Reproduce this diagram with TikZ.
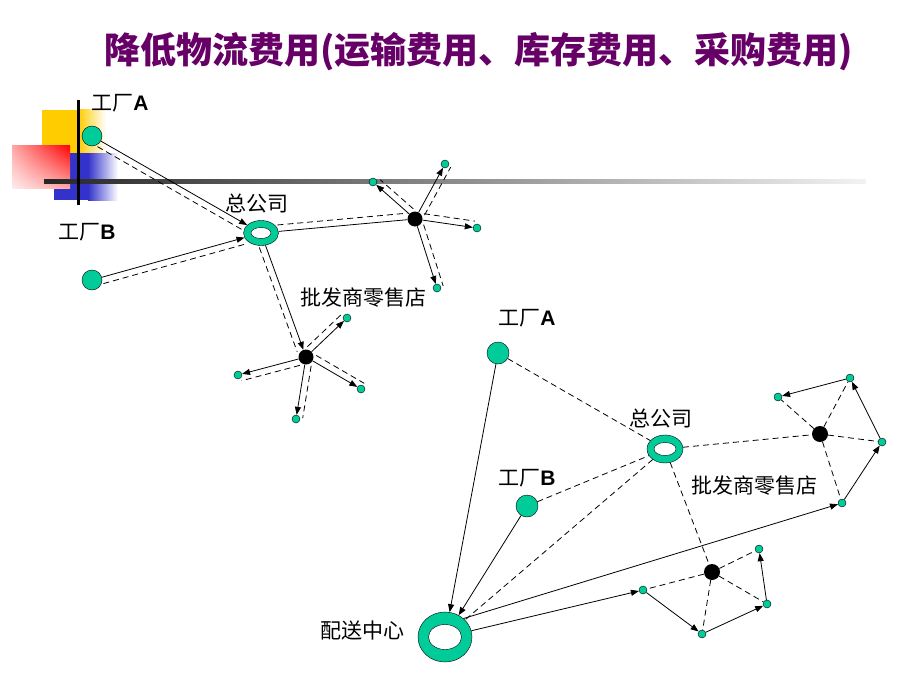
\documentclass[tikz,border=0pt]{standalone}
\usepackage{fontspec}
\newfontfamily\cjk{Noto Sans CJK SC}
\newfontfamily\latn{Liberation Sans}
\usetikzlibrary{shapes.geometric,calc,arrows.meta,shadings}

\definecolor{mint}{RGB}{0,204,153}
\definecolor{plum}{RGB}{102,0,102}
\definecolor{gold}{RGB}{255,204,0}
\definecolor{royal}{RGB}{51,51,204}

\tikzstyle{site}=[circle, draw, fill=mint, inner sep=0pt, minimum size=20pt]
\tikzstyle{shop}=[circle, draw, fill=mint, inner sep=0pt, minimum size=8pt]
\tikzstyle{hub}=[circle, fill=black, inner sep=0pt, minimum size=15pt]
\tikzstyle{ring}=[ellipse, draw, fill=mint, inner sep=0pt]
\tikzstyle{hole}=[ellipse, draw, fill=white, inner sep=0pt]
\tikzstyle{tag}=[font=\cjk\fontsize{21}{24}\selectfont, inner sep=1pt]
\tikzstyle{flow}=[line width=0.8pt, -{Triangle[length=8pt,width=6pt]}]
\tikzstyle{plainflow}=[line width=0.8pt]
\tikzstyle{info}=[line width=0.8pt, dash pattern=on 6pt off 4pt]

\begin{document}
\begin{tikzpicture}[x=1pt, y=-1pt]
\useasboundingbox (0,0) rectangle (920,690);

% corner decoration
\fill[gold] (42,110) rectangle (78,153);
\shade[left color=gold, right color=white] (78,110) rectangle (106,153);
\fill[royal] (54,153) rectangle (88,200);
\shade[left color=royal, right color=white] (88,153) rectangle (118,200);
\shade[upper left=red!35, upper right=red, lower left=red!8, lower right=red!35] (12,145) rectangle (70,188);
\shade[left color=black!85, right color=black!5] (44,179.5) rectangle (866,183);
\fill (76.5,100) rectangle (79.5,205);

\node[font=\cjk\bfseries\fontsize{36}{40}\selectfont, text=plum, anchor=west] (title) at (101,52) {降低物流费用(运输费用、库存费用、采购费用)};

% upper network
\node[site] (fA) at (92,136) {};
\node[site] (fB) at (92,280) {};
\node[ring, minimum width=35pt, minimum height=25pt] (hq) at (261,233) {};
\node[hole, minimum width=20pt, minimum height=11pt] (hqhole) at (hq) {};
\node[hub] (w1) at (415,219) {};
\node[hub] (w2) at (306,357) {};
\node[shop] (w1a) at (373,182) {};
\node[shop] (w1b) at (445,164) {};
\node[shop] (w1c) at (477,228) {};
\node[shop] (w1d) at (437,288) {};
\node[shop] (w2a) at (347,318) {};
\node[shop] (w2b) at (238,375) {};
\node[shop] (w2c) at (361,389) {};
\node[shop] (w2d) at (296,419) {};

\node[tag] (fAtag) at (120,103) {工厂{\latn\bfseries A}};
\node[tag] (fBtag) at (87,232) {工厂{\latn\bfseries B}};
\node[tag] (hqtag) at (257,203) {总公司};
\node[tag] (wtag) at (363,298) {批发商零售店};

\draw[flow] (fA) -- (hq);
\draw[flow] (fB) -- (hq);
\draw[plainflow] (hq) -- (w1);
\draw[flow] (hq) -- (w2);
\draw[flow] (w1) -- (w1a);
\draw[flow] (w1) -- (w1b);
\draw[flow] (w1) -- (w1c);
\draw[flow] (w1) -- (w1d);
\draw[flow] (w2) -- (w2a);
\draw[flow] (w2) -- (w2b);
\draw[flow] (w2) -- (w2c);
\draw[flow] (w2) -- (w2d);

\draw[info, shorten <=10pt, shorten >=15pt] ($(fA)!6.5pt!270:(hq)$) -- ($(hq)!6.5pt!-270:(fA)$);
\draw[info, shorten <=10pt, shorten >=16pt] ($(fB)!6.5pt!270:(hq)$) -- ($(hq)!6.5pt!-270:(fB)$);
\draw[info, shorten <=17pt, shorten >=7pt] ($(hq)!6.5pt!90:(w1)$) -- ($(w1)!6.5pt!-90:(hq)$);
\draw[info, shorten <=13pt, shorten >=8pt] ($(hq)!6.5pt!270:(w2)$) -- ($(w2)!6.5pt!-270:(hq)$);
\draw[info, shorten <=8pt, shorten >=4pt] ($(w1)!6.5pt!270:(w1a)$) -- ($(w1a)!6.5pt!-270:(w1)$);
\draw[info, shorten <=8pt, shorten >=0pt] ($(w1)!6.5pt!270:(w1b)$) -- ($(w1b)!6.5pt!-270:(w1)$);
\draw[info, shorten <=8pt, shorten >=3pt] ($(w1)!6.5pt!90:(w1c)$) -- ($(w1c)!6.5pt!-90:(w1)$);
\draw[info, shorten <=8pt, shorten >=0pt] ($(w1)!6.5pt!90:(w1d)$) -- ($(w1d)!6.5pt!-90:(w1)$);
\draw[info, shorten <=8pt, shorten >=2pt] ($(w2)!6.5pt!90:(w2a)$) -- ($(w2a)!6.5pt!-90:(w2)$);
\draw[info, shorten <=8pt, shorten >=2pt] ($(w2)!6.5pt!90:(w2b)$) -- ($(w2b)!6.5pt!-90:(w2)$);
\draw[info, shorten <=8pt, shorten >=0pt] ($(w2)!6.5pt!90:(w2c)$) -- ($(w2c)!6.5pt!-90:(w2)$);
\draw[info, shorten <=8pt, shorten >=2pt] ($(w2)!6.5pt!90:(w2d)$) -- ($(w2d)!6.5pt!-90:(w2)$);

% lower network
\node[site, minimum size=22pt] (gA) at (498,353) {};
\node[site, minimum size=22pt] (gB) at (527,506) {};
\node[ring, minimum width=36pt, minimum height=28pt] (hq2) at (665,449) {};
\node[hole, minimum width=22pt, minimum height=13pt] (hq2hole) at (hq2) {};
\node[ring, minimum width=54pt, minimum height=50pt] (dc) at (445,637) {};
\node[hole, minimum width=33pt, minimum height=25pt] (dchole) at (dc) {};
\node[hub, minimum size=16pt] (v1) at (820,434) {};
\node[hub, minimum size=16pt] (v2) at (712,572) {};
\node[shop] (v1a) at (778,397) {};
\node[shop] (v1b) at (850,378) {};
\node[shop] (v1c) at (882,442) {};
\node[shop] (v1d) at (842,503) {};
\node[shop] (v2a) at (643,590) {};
\node[shop] (v2b) at (702,634) {};
\node[shop] (v2c) at (767,604) {};
\node[shop] (v2d) at (759,549) {};

\node[tag] (gAtag) at (527,318) {工厂{\latn\bfseries A}};
\node[tag] (gBtag) at (527,478) {工厂{\latn\bfseries B}};
\node[tag] (hq2tag) at (661,418) {总公司};
\node[tag] (vtag) at (754,486) {批发商零售店};
\node[tag] (dctag) at (362,631) {配送中心};

\draw[info] (gA) -- (hq2);
\draw[info] (gB) -- (hq2);
\draw[info] (hq2) -- (dc);
\draw[info] (hq2) -- (v1);
\draw[info] (hq2) -- (v2);
\draw[info] (v1) -- (v1a);
\draw[info] (v1) -- (v1b);
\draw[info] (v1) -- (v1c);
\draw[info] (v1) -- (v1d);
\draw[info] (v2) -- (v2a);
\draw[info] (v2) -- (v2b);
\draw[info] (v2) -- (v2c);
\draw[info] (v2) -- (v2d);

\draw[flow] (gA) -- (dc);
\draw[flow] (gB) -- (dc);
\draw[flow] (dc.45) -- (v1d);
\draw[flow] (dc) -- (v2a);
\draw[flow] (v1d) -- (v1c);
\draw[flow] (v1c) -- (v1b);
\draw[flow] (v1b) -- (v1a);
\draw[flow] (v2a) -- (v2b);
\draw[flow] (v2b) -- (v2c);
\draw[flow] (v2c) -- (v2d);
\end{tikzpicture}
\end{document}
